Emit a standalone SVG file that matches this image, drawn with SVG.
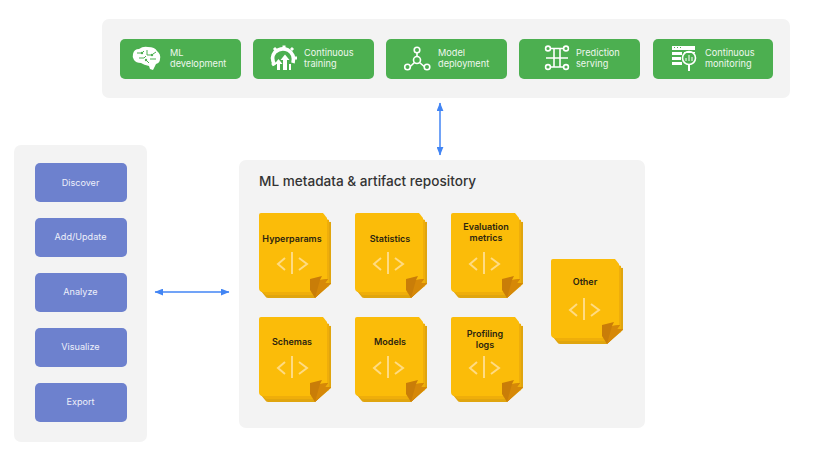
<svg xmlns="http://www.w3.org/2000/svg" width="821" height="452" viewBox="0 0 821 452">
<style>
text{font-family:"Inter","Noto Sans","Liberation Sans",sans-serif}
.panel{fill:#f3f3f3}
.g{fill:#4caf50}
.b{fill:#6d81ce}
.wt{fill:#eef7ee;font-size:9.2px}
.bt{fill:#eef0fa;font-size:9.1px;text-anchor:middle}
.dt{fill:#2b2410;font-size:9px;font-weight:600;text-anchor:middle}
.ico{fill:none;stroke:#fff;stroke-width:1.6}
.cut{fill:none;stroke:#4caf50;stroke-width:1}
.fill{fill:#fff}
.conn{stroke:#4285f4;stroke-width:1.5;fill:none;marker-start:url(#a);marker-end:url(#a)}
.code{fill:none;stroke:#ffdb82;stroke-width:2}
</style>
<defs>
<marker id="a" viewBox="0 0 10 8" refX="9.5" refY="4" markerWidth="9" markerHeight="7" orient="auto-start-reverse" markerUnits="userSpaceOnUse"><path d="M0 0L10 4L0 8Z" fill="#4285f4"/></marker>
<g id="doc">
<path d="M7 8H62L72 9V71L56 85H9Q7 85 6 83L2 78Z" fill="#e0a50e"/>
<path d="M4 4H62L70 7V73L56 82H7L2 78Z" fill="#efae0a"/>
<path d="M2 0H64L68 5V68L52 79H4Q0 79 0 75V2Q0 0 2 0Z" fill="#fbbc09"/>
<path d="M51 66L63 63L61 67L69 66L66 70L72 70L56 85L51 77Z" fill="#c97d08"/>
<path d="M61 67L69 66L66 70L72 70L56 85Z" fill="#d68808"/>
<path d="M26 45L19 51L26 57M40 45L48 51L40 57M33 39V61" class="code"/>
</g>
</defs>
<rect class="panel" x="102" y="19" width="688" height="79" rx="7"/>
<rect class="panel" x="14" y="145" width="133" height="297" rx="7"/>
<rect class="panel" x="239" y="160" width="406" height="268" rx="7"/>
<g id="connectors">
<path class="conn" d="M440 103V155"/>
<path class="conn" d="M155 292H229"/>
</g>
<g id="ml-development"><rect class="g" x="120" y="39" width="121" height="40" rx="5"/>
<path class="fill" d="M133 54Q134 49 139 49Q143 46 148 47Q155 47 157 51Q161 54 160 59Q160 63 156 64L153 70L150 69L149 66Q144 65 141 63Q136 63 134 60Q132 57 133 54Z"/>
<path class="cut" d="M137 53H142L144 51M147 50V55H152M139 58H144L146 56M150 59H156M153 54L156 52M146 60L149 63"/>
<circle cx="142" cy="53" r="1.2" fill="#4caf50"/><circle cx="152" cy="55" r="1.2" fill="#4caf50"/><circle cx="146" cy="60" r="1.2" fill="#4caf50"/>
<text class="wt"><tspan x="170" y="55.5">ML</tspan><tspan x="170" y="66.5">development</tspan></text></g>
<g id="continuous-training"><rect class="g" x="253" y="39" width="121" height="40" rx="5"/>
<path d="M275 65Q270 58 275 52Q281 47 288 50Q295 54 293 63" fill="none" stroke="#fff" stroke-width="3.6"/>
<path d="M284 45.500V48M274 48L276 50M293 48L291 50M271 58H274M297 58H294M272 65L275 63" fill="none" stroke="#fff" stroke-width="3"/>
<path class="fill" d="M277 70V64H274.500L278.500 59L282.500 64H280V70ZM283 70V60H280.500L285 54.500L289.500 60H287V70ZM289 70V64H291V70Z"/>
<text class="wt"><tspan x="304" y="55.5">Continuous</tspan><tspan x="304" y="66.5">training</tspan></text></g>
<g id="model-deployment"><rect class="g" x="386" y="39" width="121" height="40" rx="5"/>
<g class="ico"><circle cx="417" cy="50" r="2.8"/><circle cx="407.500" cy="67" r="2.8"/><circle cx="427" cy="67" r="2.8"/><circle cx="417" cy="60" r="3.5"/><path d="M417 53V56.500M410.300 66.500L414.500 62.500M424.200 66.500L419.500 62.500"/></g>
<text class="wt"><tspan x="438" y="55.5">Model</tspan><tspan x="438" y="66.5">deployment</tspan></text></g>
<g id="prediction-serving"><rect class="g" x="519" y="39" width="121" height="40" rx="5"/>
<g class="ico"><circle cx="548" cy="48.500" r="2.4"/><circle cx="566" cy="48.500" r="2.4"/><circle cx="548" cy="67" r="2.4"/><circle cx="566" cy="67" r="2.4"/><path d="M550.500 48.500H563.500M550.500 67H563.500M554 48.500V67M560 48.500V67M546 58H568"/></g>
<text class="wt"><tspan x="576" y="55.5">Prediction</tspan><tspan x="576" y="66.5">serving</tspan></text></g>
<g id="continuous-monitoring"><rect class="g" x="653" y="39" width="120" height="40" rx="5"/>
<path class="fill" d="M672 46H695V50H672ZM672 52H682V55H672ZM672 57H681V60H672ZM672 62H682V65H672ZM684 52H695V53H684Z"/>
<path d="M674 47.500H675M677 47.500H678M680 47.500H681" stroke="#4caf50"/>
<g class="ico"><circle cx="689" cy="58" r="6.500"/><path d="M689 65V71" stroke-width="2"/><path d="M686 61V58M689 61V55M692 61V57" stroke-width="1"/></g>
<text class="wt"><tspan x="705" y="55.5">Continuous</tspan><tspan x="705" y="66.5">monitoring</tspan></text></g>
<g id="discover"><rect class="b" x="35" y="163" width="92" height="39" rx="5"/><text class="bt" x="80.500" y="186">Discover</text></g>
<g id="add-update"><rect class="b" x="35" y="218" width="92" height="39" rx="5"/><text class="bt" x="80.500" y="240">Add/Update</text></g>
<g id="analyze"><rect class="b" x="35" y="273" width="92" height="39" rx="5"/><text class="bt" x="80.500" y="295">Analyze</text></g>
<g id="visualize"><rect class="b" x="35" y="328" width="92" height="39" rx="5"/><text class="bt" x="80.500" y="350">Visualize</text></g>
<g id="export"><rect class="b" x="35" y="383" width="92" height="39" rx="5"/><text class="bt" x="80.500" y="405">Export</text></g>
<text x="259" y="186" font-size="13.600" font-weight="500" fill="#333">ML metadata &amp; artifact repository</text>
<g id="hyperparams"><use href="#doc" x="259" y="213"/><text class="dt" x="292" y="241.500">Hyperparams</text></g>
<g id="statistics"><use href="#doc" x="355" y="213"/><text class="dt" x="390" y="241.500">Statistics</text></g>
<g id="evaluation-metrics"><use href="#doc" x="451" y="213"/><text class="dt"><tspan x="486" y="230">Evaluation</tspan><tspan x="486" y="241">metrics</tspan></text></g>
<g id="schemas"><use href="#doc" x="259" y="317"/><text class="dt" x="292" y="345">Schemas</text></g>
<g id="models"><use href="#doc" x="355" y="317"/><text class="dt" x="390" y="345">Models</text></g>
<g id="profiling-logs"><use href="#doc" x="451" y="317"/><text class="dt"><tspan x="485" y="337">Profiling</tspan><tspan x="485" y="348">logs</tspan></text></g>
<g id="other"><use href="#doc" x="551" y="259"/><text class="dt" x="585" y="285">Other</text></g>
</svg>
